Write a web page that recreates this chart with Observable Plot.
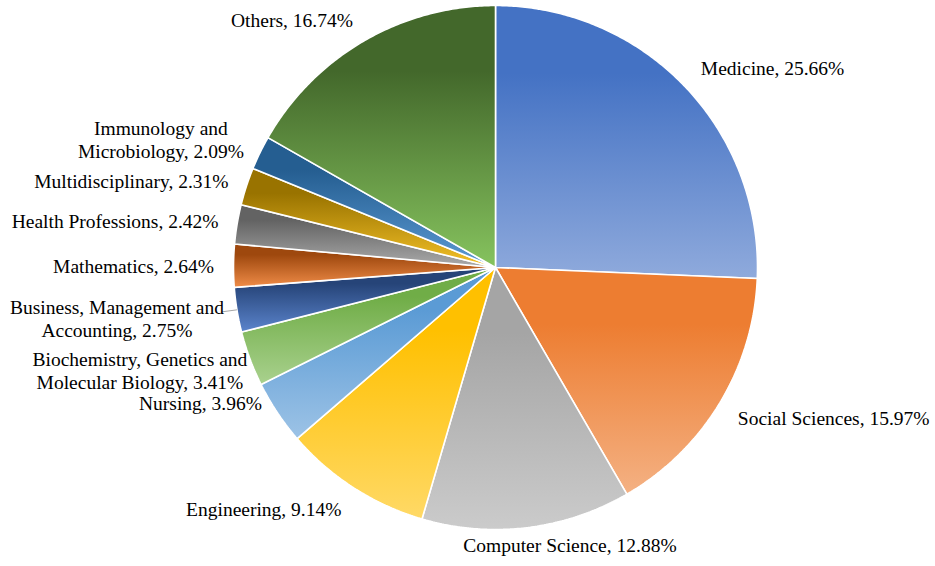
<!DOCTYPE html>
<html>
<head>
<meta charset="utf-8">
<script src="https://cdn.jsdelivr.net/npm/d3@7"></script>
<script src="https://cdn.jsdelivr.net/npm/@observablehq/plot@0.6"></script>
<style>
  html, body { margin: 0; padding: 0; background: #ffffff; }
  #chart svg { display: block; }
</style>
</head>
<body>
<div id="chart"></div>
<script>
// ---- data ----
const categories = [
  "Medicine", "Social Sciences", "Computer Science", "Engineering", "Nursing",
  "Biochemistry, Genetics and Molecular Biology", "Business, Management and Accounting",
  "Mathematics", "Health Professions", "Multidisciplinary",
  "Immunology and Microbiology", "Others"
];
const shares = [25.66, 15.97, 12.88, 9.14, 3.96, 3.41, 2.75, 2.64, 2.42, 2.31, 2.09, 16.74];
const labelTexts = [
  "Medicine, 25.66%", "Social Sciences, 15.97%", "Computer Science, 12.88%",
  "Engineering, 9.14%", "Nursing, 3.96%",
  "Biochemistry, Genetics and\nMolecular Biology, 3.41%",
  "Business, Management and\nAccounting, 2.75%",
  "Mathematics, 2.64%", "Health Professions, 2.42%", "Multidisciplinary, 2.31%",
  "Immunology and\nMicrobiology, 2.09%", "Others, 16.74%"
];

// ---- styles / layout ----
const topColors = ["#4472C4", "#ED7D31", "#A5A5A5", "#FFC000", "#5B9BD5", "#70AD47",
                   "#264478", "#9E480E", "#636363", "#997300", "#255E91", "#43682B"];
const bottomColors = ["#8FAADC", "#F4B183", "#CBCBCB", "#FFD966", "#9DC3E6", "#A9D18E",
                      "#5B84CC", "#F08C48", "#ABABAB", "#F5C228", "#5C9BD5", "#86C35E"];
// label nudges (px) from each slice's outer mid-arc point
const labelNudge = [[88, -19], [114, 15], [43, 17], [-90, 21], [-77, -10], [-110, 11],
                    [-120, 8], [-100, 0], [-122, -4], [-115, -6], [-99, -14], [-72, -21]];
const leader = [false, false, false, false, false, false, true, false, false, false, false, false];

const W = 935, H = 566, R = 262, CX = 495, CY = 267;

// ---- geometry from data ----
const arcs = d3.pie().sort(null).value(d => d)(shares);
const polyPts = [];
arcs.forEach((a, i) => {
  const fill = `url(#grad${i})`;
  polyPts.push({x: 0, y: 0, k: i, fill});
  const n = Math.max(2, Math.ceil((a.endAngle - a.startAngle) / (Math.PI / 360)));
  for (let j = 0; j <= n; j++) {
    const t = a.startAngle + (a.endAngle - a.startAngle) * j / n;
    polyPts.push({x: Math.sin(t), y: Math.cos(t), k: i, fill});
  }
  polyPts.push({x: 0, y: 0, k: i, fill});
});

const labels = arcs.map((a, i) => {
  const m = (a.startAngle + a.endAngle) / 2;
  return {
    text: labelTexts[i],
    x: Math.sin(m) + labelNudge[i][0] / R,
    y: Math.cos(m) - labelNudge[i][1] / R
  };
});

const leaders = arcs.filter((a, i) => leader[i]).map(a => {
  const m = (a.startAngle + a.endAngle) / 2;
  return {x1: Math.sin(m), y1: Math.cos(m), x2: Math.sin(m) - 15 / R, y2: Math.cos(m) - 2 / R};
});

const chart = Plot.plot({
  width: W, height: H,
  margin: 0,
  style: {background: "#ffffff"},
  x: {domain: [-CX / R, (W - CX) / R], axis: null},
  y: {domain: [-(H - CY) / R, CY / R], axis: null},
  color: {type: "identity"},
  marks: [
    Plot.line(polyPts, {x: "x", y: "y", z: "k", fill: "fill", stroke: "#ffffff", strokeWidth: 1.6, strokeLinejoin: "miter"}),
    Plot.link(leaders, {x1: "x1", y1: "y1", x2: "x2", y2: "y2", stroke: "#A6A6A6", strokeWidth: 1}),
    Plot.text(labels, {x: "x", y: "y", text: "text", fill: "#000000", fontFamily: "Liberation Serif",
      fontSize: 19.5, lineHeight: 1.18, textAnchor: "middle", lineAnchor: "middle"})
  ]
});

// gradient definitions
const ns = "http://www.w3.org/2000/svg";
const defs = document.createElementNS(ns, "defs");
topColors.forEach((c, i) => {
  const g = document.createElementNS(ns, "linearGradient");
  g.setAttribute("id", `grad${i}`);
  g.setAttribute("x1", "0"); g.setAttribute("y1", "0");
  g.setAttribute("x2", "0"); g.setAttribute("y2", "1");
  [[0, c], [0.25, c], [1, bottomColors[i]]].forEach(([o, col]) => {
    const s = document.createElementNS(ns, "stop");
    s.setAttribute("offset", o);
    s.setAttribute("stop-color", col);
    g.appendChild(s);
  });
  defs.appendChild(g);
});
chart.insertBefore(defs, chart.firstChild);
document.getElementById("chart").appendChild(chart);
</script>
</body>
</html>
